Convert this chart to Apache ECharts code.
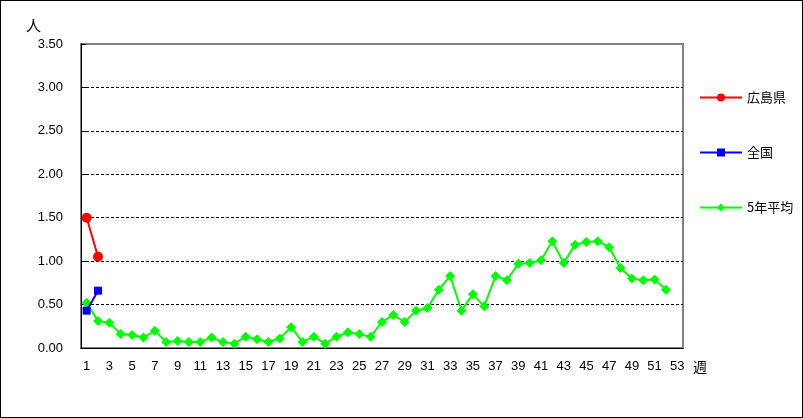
<!DOCTYPE html>
<html>
<head>
<meta charset="utf-8">
<script src="https://cdn.jsdelivr.net/npm/echarts@6/dist/echarts.min.js"></script>
<style>
  html, body { margin: 0; padding: 0; background: #fff; }
  #chart { width: 803px; height: 418px; box-sizing: border-box; border: 1px solid #000; }
</style>
</head>
<body>
<div id="chart"></div>
<script>
// weeks 1..53
const weeks = Array.from({ length: 53 }, (_, i) => String(i + 1))

const hiroshima = [1.50, 1.05]
const zenkoku = [0.43, 0.66]
const avg5 = [
  0.52, 0.31, 0.29, 0.16, 0.15, 0.12, 0.20, 0.07, 0.08, 0.07,
  0.07, 0.12, 0.07, 0.05, 0.13, 0.10, 0.07, 0.11, 0.24, 0.07,
  0.13, 0.05, 0.13, 0.18, 0.16, 0.13, 0.30, 0.38, 0.30, 0.43,
  0.46, 0.67, 0.83, 0.43, 0.62, 0.48, 0.83, 0.78, 0.97, 0.98,
  1.01, 1.23, 0.98, 1.19, 1.22, 1.23, 1.16, 0.92, 0.80, 0.78,
  0.79, 0.67,
]

const numFont = '"Liberation Sans", Arial, sans-serif'
const jpFont = '"Noto Sans CJK JP", sans-serif'

const chart = echarts.init(document.getElementById('chart'))

chart.setOption({
  animation: false,
  backgroundColor: '#fff',
  grid: {
    left: 80, top: 43, right: 119, bottom: 69,
    show: true, borderColor: '#808080', borderWidth: 2,
  },
  legend: {
    orient: 'vertical',
    left: 693,
    top: 85,
    itemWidth: 42,
    itemHeight: 10,
    itemGap: 42,
    textStyle: { fontFamily: jpFont, fontSize: 13, color: '#000' },
    data: ['広島県', '全国', '5年平均'],
  },
  xAxis: {
    type: 'category',
    data: weeks,
    boundaryGap: true,
    axisLine: { lineStyle: { color: '#000', width: 1 } },
    axisTick: { inside: true, length: 4, interval: 0, lineStyle: { color: '#000' } },
    axisLabel: { interval: 1, color: '#000', fontFamily: numFont, fontSize: 13, margin: 12 },
    splitLine: { show: false },
  },
  yAxis: {
    type: 'value',
    min: 0,
    max: 3.5,
    interval: 0.5,
    axisLine: { show: true, lineStyle: { color: '#000', width: 1 } },
    axisTick: { show: true, inside: true, length: 5, lineStyle: { color: '#000' } },
    axisLabel: {
      color: '#000', fontFamily: numFont, fontSize: 13, margin: 18,
      formatter: (v) => v.toFixed(2),
    },
    splitLine: {
      show: true, showMaxLine: false,
      lineStyle: { color: '#000', type: [3, 2], width: 1 },
    },
  },
  graphic: [
    { type: 'text', left: 25, top: 17, style: { text: '人', font: '15px ' + jpFont, fill: '#000' } },
    { type: 'text', left: 692, top: 359, style: { text: '週', font: '14px ' + jpFont, fill: '#000' } },
  ],
  series: [
    {
      name: '広島県',
      type: 'line',
      data: hiroshima,
      symbol: 'circle',
      symbolSize: 10,
      showAllSymbol: true,
      z: 4,
      itemStyle: { color: '#ff0000' },
      lineStyle: { color: '#ff0000', width: 2 },
    },
    {
      name: '全国',
      type: 'line',
      data: zenkoku,
      symbol: 'rect',
      symbolSize: 8,
      showAllSymbol: true,
      z: 3,
      itemStyle: { color: '#0000ff' },
      lineStyle: { color: '#0000ff', width: 2 },
    },
    {
      name: '5年平均',
      type: 'line',
      data: avg5,
      symbol: 'diamond',
      symbolSize: 10,
      showAllSymbol: true,
      z: 2,
      itemStyle: { color: '#00ff00' },
      lineStyle: { color: '#00ff00', width: 2 },
    },
  ],
})
</script>
</body>
</html>
